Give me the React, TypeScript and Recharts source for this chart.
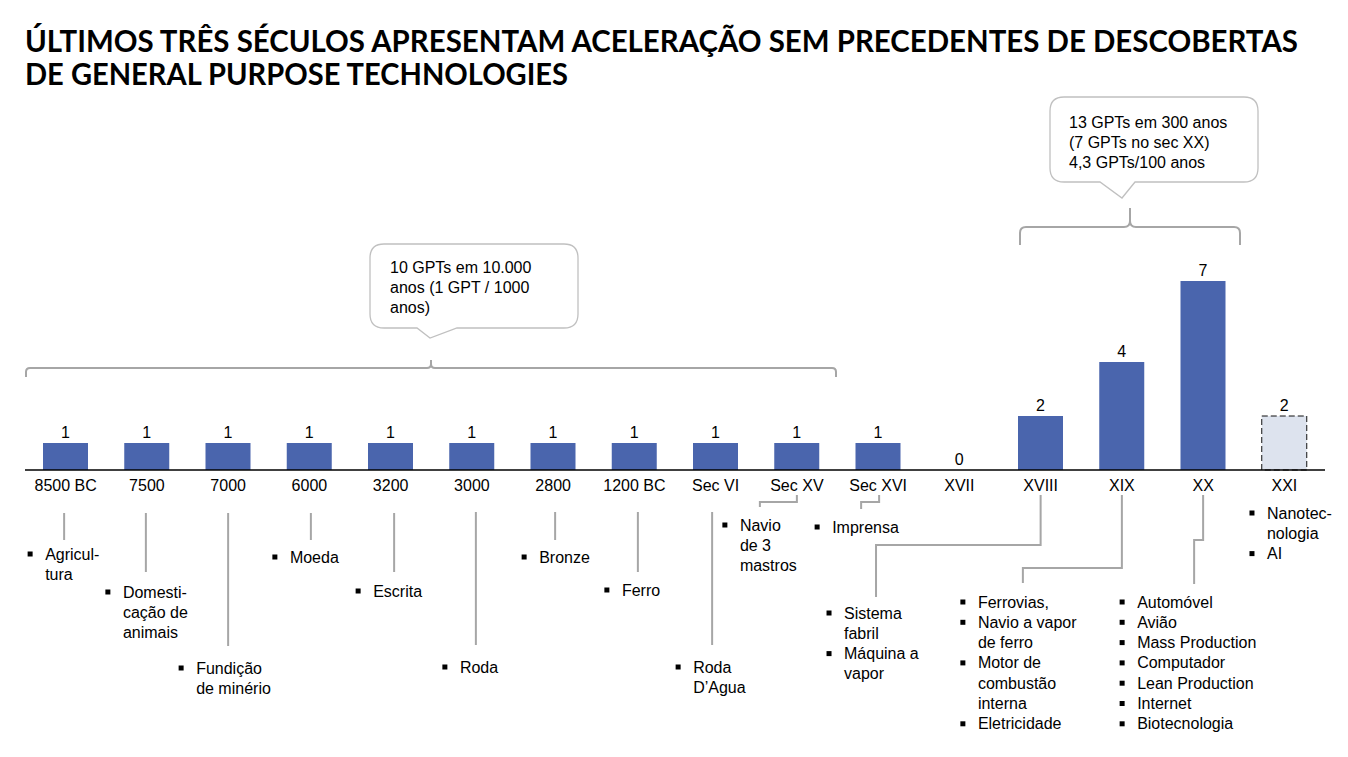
import React from 'react';
import { BarChart, Bar, XAxis, YAxis, Cell, LabelList } from 'recharts';

// ---------- data ----------
const categories = ['8500 BC', '7500', '7000', '6000', '3200', '3000', '2800', '1200 BC', 'Sec VI', 'Sec XV', 'Sec XVI', 'XVII', 'XVIII', 'XIX', 'XX', 'XXI'];
const gptCounts = [1, 1, 1, 1, 1, 1, 1, 1, 1, 1, 1, 0, 2, 4, 7, 2];
const projected = [false, false, false, false, false, false, false, false, false, false, false, false, false, false, false, true];
// each category: list of bullet items, each item a list of wrapped lines
const gptItems: string[][][] = [
  [['Agricul-', 'tura']],
  [['Domesti-', 'cação de', 'animais']],
  [['Fundição', 'de minério']],
  [['Moeda']],
  [['Escrita']],
  [['Roda']],
  [['Bronze']],
  [['Ferro']],
  [['Roda', 'D’Agua']],
  [['Navio', 'de 3', 'mastros']],
  [['Imprensa']],
  [],
  [['Sistema', 'fabril'], ['Máquina a', 'vapor']],
  [['Ferrovias,'], ['Navio a vapor', 'de ferro'], ['Motor de', 'combustão', 'interna'], ['Eletricidade']],
  [['Automóvel'], ['Avião'], ['Mass Production'], ['Computador'], ['Lean Production'], ['Internet'], ['Biotecnologia']],
  [['Nanotec-', 'nologia'], ['AI']],
];
const titleLines = ['ÚLTIMOS TRÊS SÉCULOS APRESENTAM ACELERAÇÃO SEM PRECEDENTES DE DESCOBERTAS', 'DE GENERAL PURPOSE TECHNOLOGIES'];
const ancientNote = ['10 GPTs em 10.000', 'anos (1 GPT / 1000', 'anos)'];
const modernNote = ['13 GPTs em 300 anos', '(7 GPTs no sec XX)', '4,3 GPTs/100 anos'];

const chartData = categories.map((c, i) => ({ category: c, value: gptCounts[i], projected: projected[i] }));

// ---------- layout (annotation placement, not data) ----------
const W = 1348;
const H = 757;
const FONT = '"Liberation Sans", Arial, sans-serif';
const GRAY = '#a6a6a6';
const BAR = '#4a65ad';
const LINE_H = 20.3;
const TICK_Y = 480; // tick anchor y (axis at 470 + tickSize 6 + margin 4)

// connector: points as [dx from tick centre, absolute y]; text: dx of text start, centre y of first line
const annotLayout: { pts: [number, number][]; textDx: number; textY: number }[] = [
  { pts: [[-1.5, 513], [-1.5, 540]], textDx: -20.5, textY: 554 },
  { pts: [[-1, 513], [-1, 572]], textDx: -24, textY: 592 },
  { pts: [[0, 513], [0, 646]], textDx: -32, textY: 668 },
  { pts: [[1.5, 513], [1.5, 540]], textDx: -19.5, textY: 557 },
  { pts: [[3.5, 513], [3.5, 572]], textDx: -17.5, textY: 591 },
  { pts: [[4, 512], [4, 645]], textDx: -12, textY: 667 },
  { pts: [[2, 512], [2, 540]], textDx: -14, textY: 557 },
  { pts: [[3.5, 512], [3.5, 572]], textDx: -12.5, textY: 590 },
  { pts: [[-3.5, 512], [-3.5, 645]], textDx: -22.5, textY: 667 },
  { pts: [[0, 495], [0, 502], [-37, 502], [-37, 507]], textDx: -57, textY: 525 },
  { pts: [[1, 495], [1, 502], [-17, 502], [-17, 509]], textDx: -46, textY: 527 },
  { pts: [], textDx: 0, textY: 0 },
  { pts: [[0, 495], [0, 545], [-164.6, 545], [-164.6, 597]], textDx: -196.6, textY: 613 },
  { pts: [[0, 495], [0, 568], [-99, 568], [-99, 583]], textDx: -144, textY: 602 },
  { pts: [[0, 495], [0, 540], [-9, 540], [-9, 584]], textDx: -66, textY: 602 },
  { pts: [], textDx: -17.4, textY: 513 },
];

const CategoryTick = (props: any) => {
  const { x, y, payload } = props;
  const i = categories.indexOf(payload.value);
  const lay = annotLayout[i];
  const dy = y - TICK_Y;
  const items = gptItems[i] || [];
  let lineNo = 0;
  const textEls: React.ReactNode[] = [];
  items.forEach((item, k) => {
    item.forEach((ln, j) => {
      const cy = lay.textY + lineNo * LINE_H + dy;
      if (j === 0) {
        textEls.push(
          <rect key={`b${k}`} x={x + lay.textDx - 17.5} y={cy - 2.5} width={5} height={5} fill="#000" />
        );
      }
      textEls.push(
        <text key={`t${k}-${j}`} x={x + lay.textDx} y={cy} dominantBaseline="central" fontSize={16} fontFamily={FONT} fill="#000">
          {ln}
        </text>
      );
      lineNo++;
    });
  });
  const d = lay.pts.map((p, k) => `${k === 0 ? 'M' : 'L'}${x + p[0]},${p[1] + dy}`).join(' ');
  return (
    <g>
      <text x={x} y={y} dy="0.71em" textAnchor="middle" fontSize={16} fontFamily={FONT} fill="#000">
        {payload.value}
      </text>
      {d && <path d={d} fill="none" stroke={GRAY} strokeWidth={2} />}
      {textEls}
    </g>
  );
};

const ValueLabel = (props: any) => {
  const { x, y, width, height, value } = props;
  if (x == null || y == null) return null;
  const top = Number(value) === 0 ? Number(y) + Number(height || 0) : Number(y);
  return (
    <text x={Number(x) + Number(width) / 2} y={top - 5} textAnchor="middle" fontSize={16} fontFamily={FONT} fill="#000">
      {String(value)}
    </text>
  );
};

function calloutPath(x0: number, y0: number, x1: number, y1: number, r: number, tl: number, tip: [number, number], tr: number) {
  return [
    `M${x0 + r},${y0}`,
    `L${x1 - r},${y0}`,
    `Q${x1},${y0} ${x1},${y0 + r}`,
    `L${x1},${y1 - r}`,
    `Q${x1},${y1} ${x1 - r},${y1}`,
    `L${tr},${y1}`,
    `L${tip[0]},${tip[1]}`,
    `L${tl},${y1}`,
    `L${x0 + r},${y1}`,
    `Q${x0},${y1} ${x0},${y1 - r}`,
    `L${x0},${y0 + r}`,
    `Q${x0},${y0} ${x0 + r},${y0}`,
    'Z',
  ].join(' ');
}

function bracePath(xl: number, xr: number, yh: number, tipX: number, tipY: number, endY: number, r: number) {
  return [
    `M${xl},${endY}`,
    `L${xl},${yh + r}`,
    `Q${xl},${yh} ${xl + r},${yh}`,
    `L${tipX - r},${yh}`,
    `Q${tipX},${yh} ${tipX},${yh - r}`,
    `L${tipX},${tipY}`,
    `L${tipX},${yh - r}`,
    `Q${tipX},${yh} ${tipX + r},${yh}`,
    `L${xr - r},${yh}`,
    `Q${xr},${yh} ${xr},${yh + r}`,
    `L${xr},${endY}`,
  ].join(' ');
}

const Overlay = () => (
  <svg width={W} height={H} style={{ position: 'absolute', left: 0, top: 0, pointerEvents: 'none' }}>
    <text x={25} y={52} fontFamily="Lato, 'Open Sans', sans-serif" fontWeight={700} fontSize={30} textLength={1273} lengthAdjust="spacingAndGlyphs" fill="#000">
      {titleLines[0]}
    </text>
    <text x={25} y={85} fontFamily="Lato, 'Open Sans', sans-serif" fontWeight={700} fontSize={30} textLength={543} lengthAdjust="spacingAndGlyphs" fill="#000">
      {titleLines[1]}
    </text>

    {/* ancient callout */}
    <path d={calloutPath(370, 244, 578, 328, 14, 417, [430, 338], 457)} fill="#fff" stroke="#c0c0c0" strokeWidth={1.3} />
    {ancientNote.map((t, k) => (
      <text key={k} x={390} y={267 + k * 20} dominantBaseline="central" fontSize={16} fontFamily={FONT} fill="#000">
        {t}
      </text>
    ))}
    <path d={bracePath(26, 836, 368, 431, 360, 377, 4)} fill="none" stroke={GRAY} strokeWidth={2} />

    {/* modern callout */}
    <path d={calloutPath(1050, 97, 1258, 182, 14, 1100, [1122, 198], 1135)} fill="#fff" stroke="#c0c0c0" strokeWidth={1.3} />
    {modernNote.map((t, k) => (
      <text key={k} x={1069} y={122 + k * 20} dominantBaseline="central" fontSize={16} fontFamily={FONT} fill="#000">
        {t}
      </text>
    ))}
    <path d={bracePath(1020, 1240, 227, 1130, 208, 245, 6)} fill="none" stroke={GRAY} strokeWidth={2} />
  </svg>
);

export default function App() {
  return (
    <div style={{ position: 'absolute', left: 0, top: 0, width: W, height: H, background: '#fff', overflow: 'hidden' }}>
      <BarChart width={W} height={H} data={chartData} margin={{ top: 200, right: 23, bottom: 0, left: 25 }} barCategoryGap={0}>
        <YAxis hide domain={[0, 10]} />
        <XAxis
          dataKey="category"
          interval={0}
          tickLine={false}
          tickSize={6}
          tickMargin={4}
          axisLine={{ stroke: '#000', strokeWidth: 1.5 }}
          tick={<CategoryTick />}
          height={287}
        />
        <Bar dataKey="value" barSize={45} minPointSize={1} isAnimationActive={false}>
          {chartData.map((d, i) => (
            <Cell
              key={i}
              fill={d.value === 0 ? 'transparent' : d.projected ? '#dde3ee' : BAR}
              stroke={d.projected ? '#111' : 'none'}
              strokeDasharray={d.projected ? '6 3' : undefined}
              strokeWidth={d.projected ? 1 : 0}
            />
          ))}
          <LabelList dataKey="value" content={<ValueLabel />} />
        </Bar>
      </BarChart>
      <Overlay />
    </div>
  );
}
